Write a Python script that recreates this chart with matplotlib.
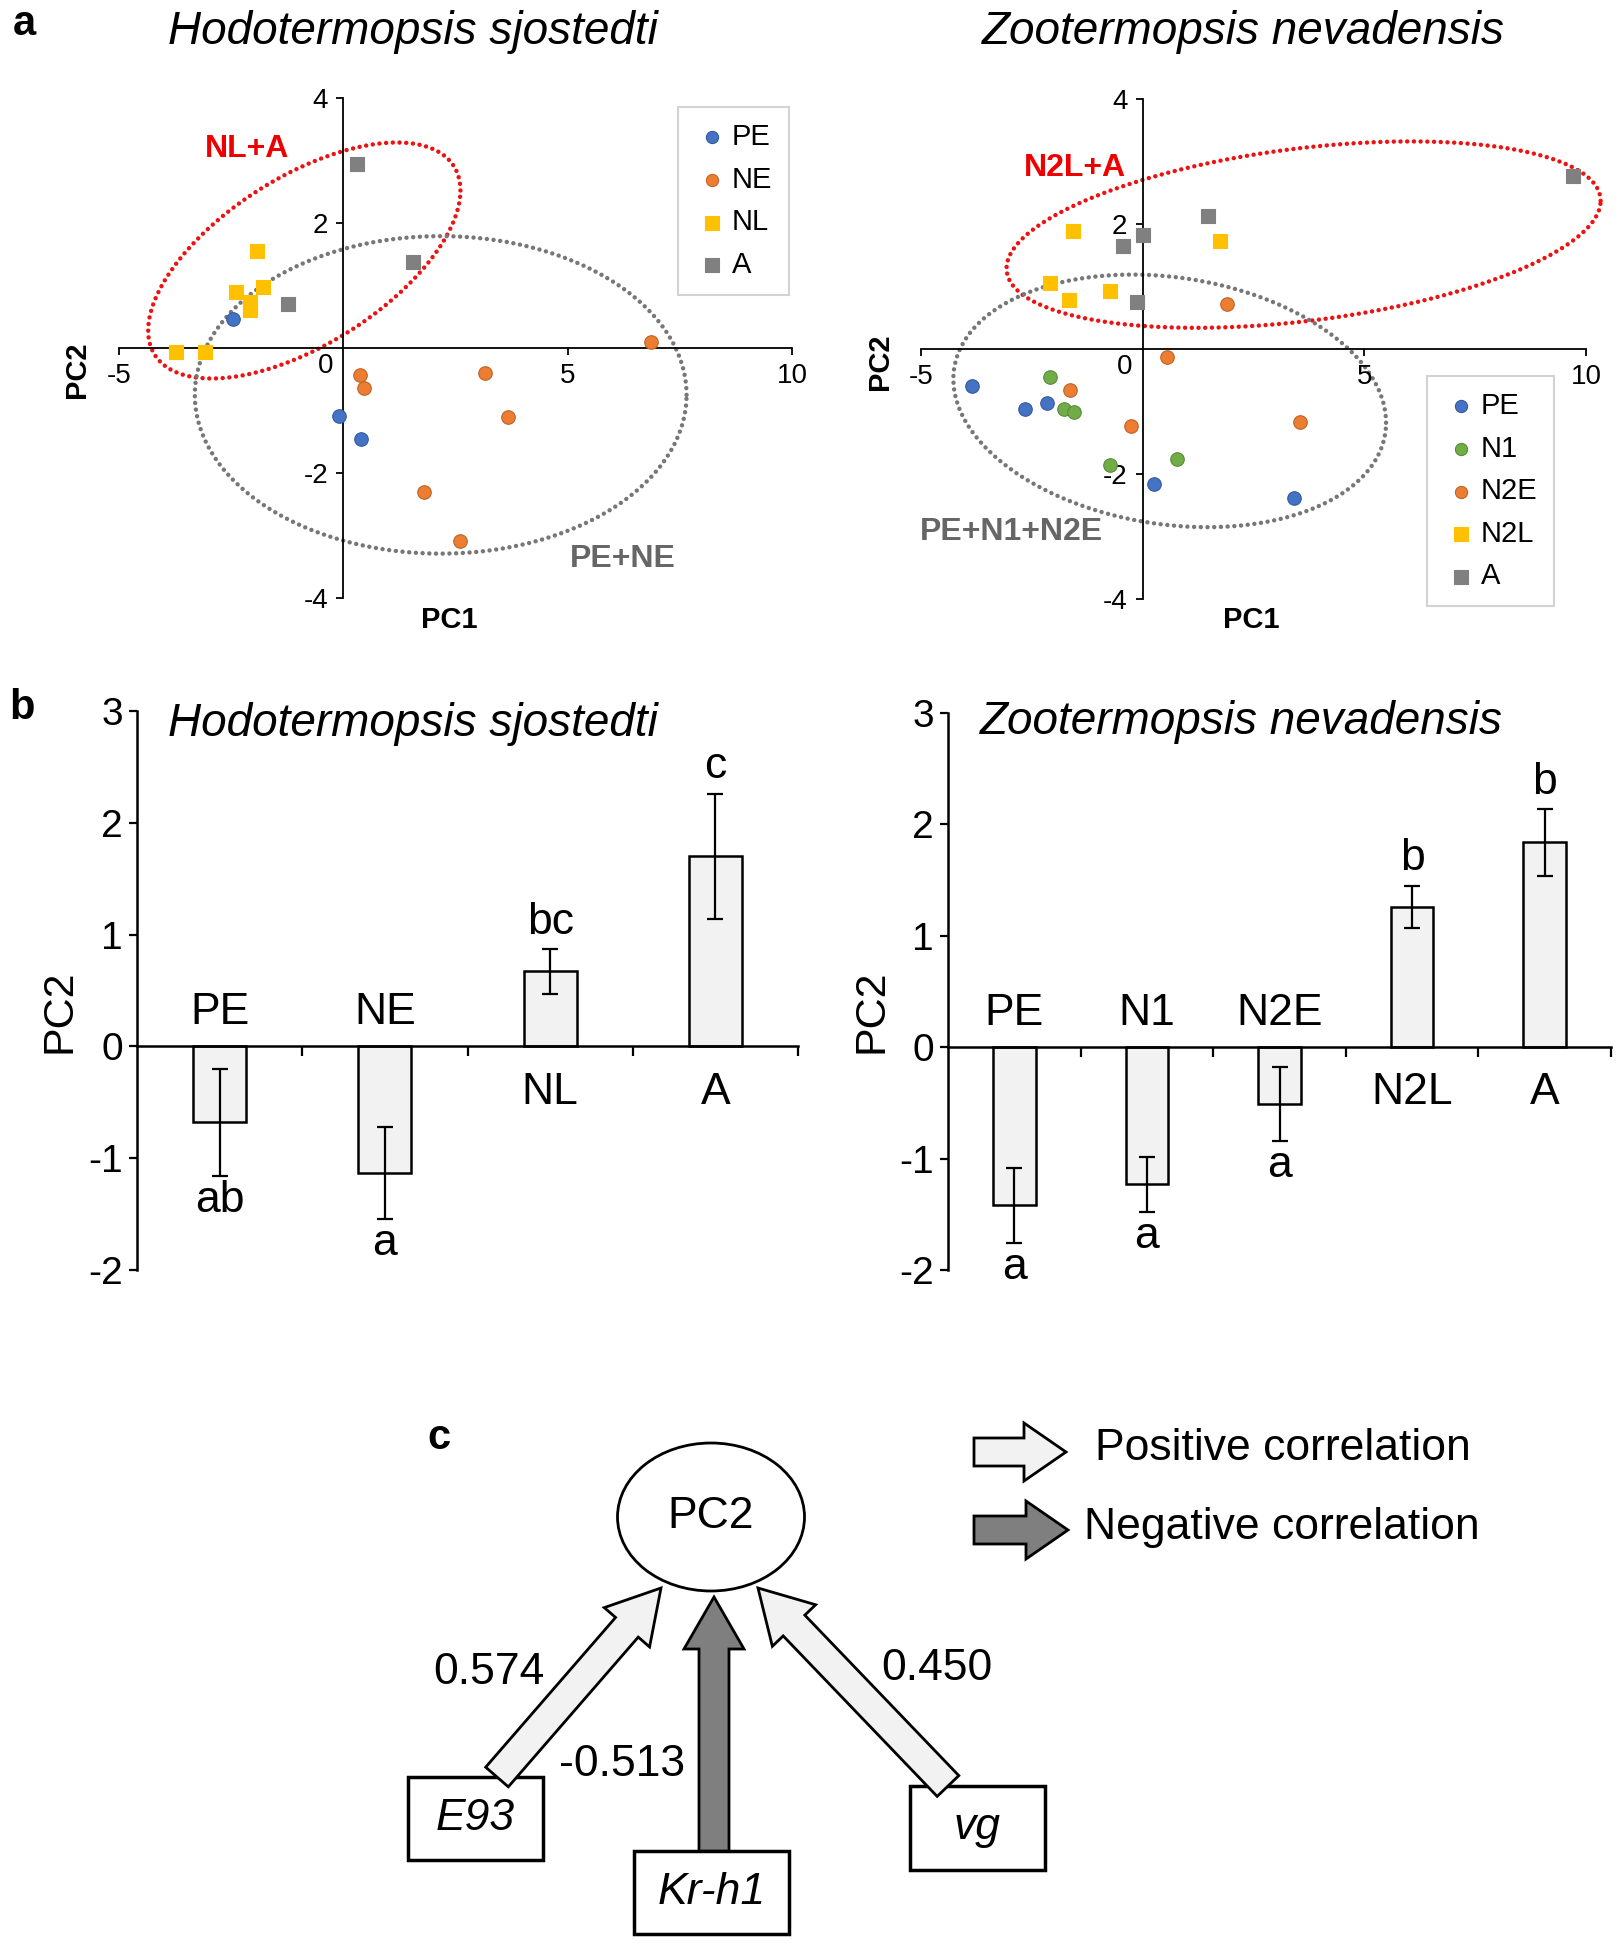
import numpy as np
import matplotlib
matplotlib.use("Agg")
import matplotlib.pyplot as plt
from matplotlib.patches import Ellipse, Rectangle, FancyArrow

plt.rcParams['font.family'] = ['Liberation Sans', 'DejaVu Sans']
plt.rcParams['axes.unicode_minus'] = False

W, H = 1618, 1946

# ---- panel a: PCA scores ----
hs_groups = ['PE', 'NE', 'NL', 'A']
hs_x = {
    'PE': [-2.46, -0.09, 0.39],
    'NE': [6.86, 0.38, 0.47, 3.16, 3.66, 1.79, 2.59],
    'NL': [-1.93, -2.40, -1.79, -2.07, -2.07, -3.74, -3.09],
    'A': [0.31, 1.56, -1.24],
}
hs_y = {
    'PE': [0.47, -1.08, -1.45],
    'NE': [0.10, -0.43, -0.64, -0.40, -1.10, -2.31, -3.08],
    'NL': [1.55, 0.89, 0.97, 0.74, 0.61, -0.07, -0.07],
    'A': [2.94, 1.38, 0.70],
}

zn_groups = ['PE', 'N1', 'N2E', 'N2L', 'A']
zn_x = {
    'PE': [-3.84, -2.66, -2.15, 0.25, 3.42],
    'N1': [-2.10, -1.77, -1.56, -0.73, 0.78],
    'N2E': [-1.63, -0.27, 0.54, 1.90, 3.56],
    'N2L': [-1.58, -2.10, -1.67, -0.74, 1.75],
    'A': [-0.45, 0.01, -0.12, 1.47, 9.71],
}
zn_y = {
    'PE': [-0.59, -0.96, -0.86, -2.16, -2.39],
    'N1': [-0.44, -0.96, -1.00, -1.86, -1.76],
    'N2E': [-0.66, -1.23, -0.12, 0.72, -1.16],
    'N2L': [1.88, 1.06, 0.79, 0.93, 1.72],
    'A': [1.65, 1.82, 0.75, 2.12, 2.76],
}

# ---- panel b: mean PC2 +/- SE ----
hs_cats = ['PE', 'NE', 'NL', 'A']
hs_mean = [-0.68, -1.13, 0.67, 1.70]
hs_err = [0.48, 0.41, 0.20, 0.56]
hs_letters = ['ab', 'a', 'bc', 'c']

zn_cats = ['PE', 'N1', 'N2E', 'N2L', 'A']
zn_mean = [-1.42, -1.23, -0.51, 1.26, 1.84]
zn_err = [0.34, 0.245, 0.33, 0.19, 0.30]
zn_letters = ['a', 'a', 'a', 'b', 'b']

# ---- panel c: path coefficients ----
genes = ['E93', 'Kr-h1', 'vg']
coefs = [0.574, -0.513, 0.450]

style = {
    'PE': ('#4472C4', 'o'), 'NE': ('#ED7D31', 'o'), 'N1': ('#70AD47', 'o'),
    'N2E': ('#ED7D31', 'o'), 'NL': ('#FFC000', 's'), 'N2L': ('#FFC000', 's'),
    'A': ('#808080', 's'),
}


def px_axes(fig, l, t, r, b):
    return fig.add_axes([l / W, 1 - b / H, (r - l) / W, (b - t) / H])


def ftext(fig, x, y, s, **kw):
    kw.setdefault('ha', 'center')
    kw.setdefault('va', 'center')
    return fig.text(x / W, 1 - y / H, s, **kw)


def dotted_ellipse(ax, c, u, v, color, lw=3.2):
    t = np.linspace(0, 2 * np.pi, 600)
    x = c[0] + u[0] * np.cos(t) + v[0] * np.sin(t)
    y = c[1] + u[1] * np.cos(t) + v[1] * np.sin(t)
    ax.plot(x, y, color=color, lw=lw, ls=(0, (0.01, 1.5)),
            dash_capstyle='round', clip_on=False, zorder=1)


def scatter_panel(ax, groups, xs, ys, legend_xy):
    for g in groups:
        col, mk = style[g]
        ec = col if mk == 's' else matplotlib.colors.to_hex(
            np.array(matplotlib.colors.to_rgb(col)) * 0.8)
        ax.scatter(xs[g], ys[g], s=95 if mk == 'o' else 110, c=col, marker=mk,
                   edgecolors=ec, linewidths=0.8, zorder=3, label=g)
    ax.set_xlim(-5, 10)
    ax.set_ylim(-4, 4)
    for s in ['top', 'right']:
        ax.spines[s].set_visible(False)
    ax.spines['left'].set_position(('data', 0))
    ax.spines['bottom'].set_position(('data', 0))
    for s in ['left', 'bottom']:
        ax.spines[s].set_linewidth(1.3)
    ax.set_xticks([-5, 5, 10])
    ax.set_yticks([-4, -2, 2, 4])
    ax.tick_params(labelsize=20, direction='out', length=5, width=1.3, pad=6)
    ax.annotate('0', xy=(0, 0), xytext=(-13, -13), textcoords='offset points',
                ha='center', va='center', fontsize=20)
    ax.patch.set_alpha(0)
    leg = ax.legend(loc='upper left', bbox_to_anchor=(legend_xy[0] / W, 1 - legend_xy[1] / H),
                    bbox_transform=fig.transFigure, borderaxespad=0, fontsize=21,
                    fancybox=False, edgecolor='#c8c8c8', handletextpad=0.1,
                    handlelength=1.2, labelspacing=0.5, borderpad=0.55, markerscale=0.9)
    leg.get_frame().set_linewidth(1.5)


def bar_panel(ax, cats, means, errs, letters):
    x = np.arange(len(cats))
    ax.bar(x, means, width=0.32, color='#f2f2f2', edgecolor='black', linewidth=1.8, zorder=2)
    ax.errorbar(x, means, yerr=errs, fmt='none', ecolor='black', elinewidth=1.6,
                capsize=6, capthick=1.6, zorder=3)
    ax.set_xlim(-0.5, len(cats) - 0.5)
    ax.set_ylim(-2, 3)
    for s in ['top', 'right']:
        ax.spines[s].set_visible(False)
    ax.spines['bottom'].set_position(('data', 0))
    for s in ['left', 'bottom']:
        ax.spines[s].set_linewidth(1.8)
    ax.set_xticks(x + 0.5)
    ax.set_xticklabels([])
    ax.tick_params(axis='x', direction='out', length=7, width=1.6)
    ax.set_yticks([-2, -1, 0, 1, 2, 3])
    ax.tick_params(axis='y', labelsize=28, direction='out', length=6, width=1.6, pad=4)
    for xi, m, e, cat, let in zip(x, means, errs, cats, letters):
        if m >= 0:
            ax.text(xi, -0.41, cat, ha='center', va='center', fontsize=32)
            ax.text(xi, m + e + 0.24, let, ha='center', va='center', fontsize=32)
        else:
            ax.text(xi, 0.30, cat, ha='center', va='center', fontsize=32)
            ax.text(xi, m - e - 0.22, let, ha='center', va='center', fontsize=32)
    ax.patch.set_alpha(0)


fig = plt.figure(figsize=(W / 100, H / 100), dpi=100)

# panel a
ax1 = px_axes(fig, 119, 98, 792, 598)
scatter_panel(ax1, hs_groups, hs_x, hs_y, (678, 107))
dotted_ellipse(ax1, (-0.87, 1.40), (3.48, 1.12), (0, 1.52), '#ee1111')
dotted_ellipse(ax1, (2.17, -0.75), (5.48, 0), (0, 2.54), '#777777')
ax1.text(-2.15, 3.19, 'NL+A', color='#ee0000', fontsize=23, fontweight='bold',
         ha='center', va='center')
ax1.text(6.23, -3.38, 'PE+NE', color='#666666', fontsize=23, fontweight='bold',
         ha='center', va='center')

ax2 = px_axes(fig, 921, 99, 1586, 599)
scatter_panel(ax2, zn_groups, zn_x, zn_y, (1427, 376))
dotted_ellipse(ax2, (3.63, 1.83), (6.70, 0.54), (0, 1.39), '#ee1111')
dotted_ellipse(ax2, (0.61, -0.83), (4.88, -0.35), (0, 1.99), '#777777')
ax2.text(-1.53, 2.89, 'N2L+A', color='#ee0000', fontsize=23, fontweight='bold',
         ha='center', va='center')
ax2.text(-2.96, -2.93, 'PE+N1+N2E', color='#666666', fontsize=23, fontweight='bold',
         ha='center', va='center')

ftext(fig, 77, 370, 'PC2', fontsize=21, fontweight='bold', rotation=90)
ftext(fig, 880, 362, 'PC2', fontsize=21, fontweight='bold', rotation=90)
ftext(fig, 449, 620, 'PC1', fontsize=21, fontweight='bold')
ftext(fig, 1251, 620, 'PC1', fontsize=21, fontweight='bold')
ftext(fig, 413, 32, 'Hodotermopsis sjostedti', fontsize=33, style='italic')
ftext(fig, 1243, 32, 'Zootermopsis nevadensis', fontsize=33, style='italic')
ftext(fig, 24, 24, 'a', fontsize=30, fontweight='bold')

# panel b
ax3 = px_axes(fig, 137, 711, 798, 1270)
bar_panel(ax3, hs_cats, hs_mean, hs_err, hs_letters)
ax4 = px_axes(fig, 948, 713, 1611, 1270)
bar_panel(ax4, zn_cats, zn_mean, zn_err, zn_letters)
ftext(fig, 60, 1011, 'PC2', fontsize=31, rotation=90)
ftext(fig, 871, 1011, 'PC2', fontsize=31, rotation=90)
ftext(fig, 413, 724, 'Hodotermopsis sjostedti', fontsize=33, style='italic')
ftext(fig, 1241, 722, 'Zootermopsis nevadensis', fontsize=33, style='italic')
ftext(fig, 22, 708, 'b', fontsize=30, fontweight='bold')

# panel c: path diagram drawn in pixel coordinates
ov = fig.add_axes([0, 0, 1, 1])
ov.set_xlim(0, W)
ov.set_ylim(H, 0)
ov.axis('off')
ov.patch.set_alpha(0)

light, dark = '#f2f2f2', '#7f7f7f'
ov.add_patch(Ellipse((711, 1517), 187, 148, fc='white', ec='black', lw=2))
ov.text(711, 1517, 'PC2', fontsize=32, ha='center', va='center')

boxes = [(408, 1777, 543, 1860), (634, 1851, 789, 1934), (910, 1786, 1045, 1870)]
tails = [(497, 1777), (714, 1851), (948, 1786)]
tips = [(661, 1588), (714, 1597), (758, 1588)]
coef_pos = [(489, 1672), (622, 1764), (937, 1668)]
for g, c, bx, tl, tp, cp in zip(genes, coefs, boxes, tails, tips, coef_pos):
    ov.add_patch(Rectangle((bx[0], bx[1]), bx[2] - bx[0], bx[3] - bx[1],
                           fc='white', ec='black', lw=2.5))
    ov.text((bx[0] + bx[2]) / 2, (bx[1] + bx[3]) / 2, g, fontsize=32,
            style='italic', ha='center', va='center')
    ov.add_patch(FancyArrow(tl[0], tl[1], tp[0] - tl[0], tp[1] - tl[1], width=30,
                            head_width=60, head_length=52, length_includes_head=True,
                            fc=light if c > 0 else dark, ec='black', lw=2))
    ov.text(cp[0], cp[1], f'{c:.3f}', fontsize=32, ha='center', va='center')

ov.add_patch(FancyArrow(974, 1452, 92, 0, width=28, head_width=58, head_length=42,
                        length_includes_head=True, fc=light, ec='black', lw=2))
ov.add_patch(FancyArrow(974, 1530, 94, 0, width=28, head_width=58, head_length=42,
                        length_includes_head=True, fc=dark, ec='black', lw=2))
ov.text(1095, 1449, 'Positive correlation', fontsize=32, ha='left', va='center')
ov.text(1084, 1527, 'Negative correlation', fontsize=32, ha='left', va='center')
ov.text(439, 1438, 'c', fontsize=30, fontweight='bold', ha='center', va='center')

fig.savefig('out.png', dpi=100)
